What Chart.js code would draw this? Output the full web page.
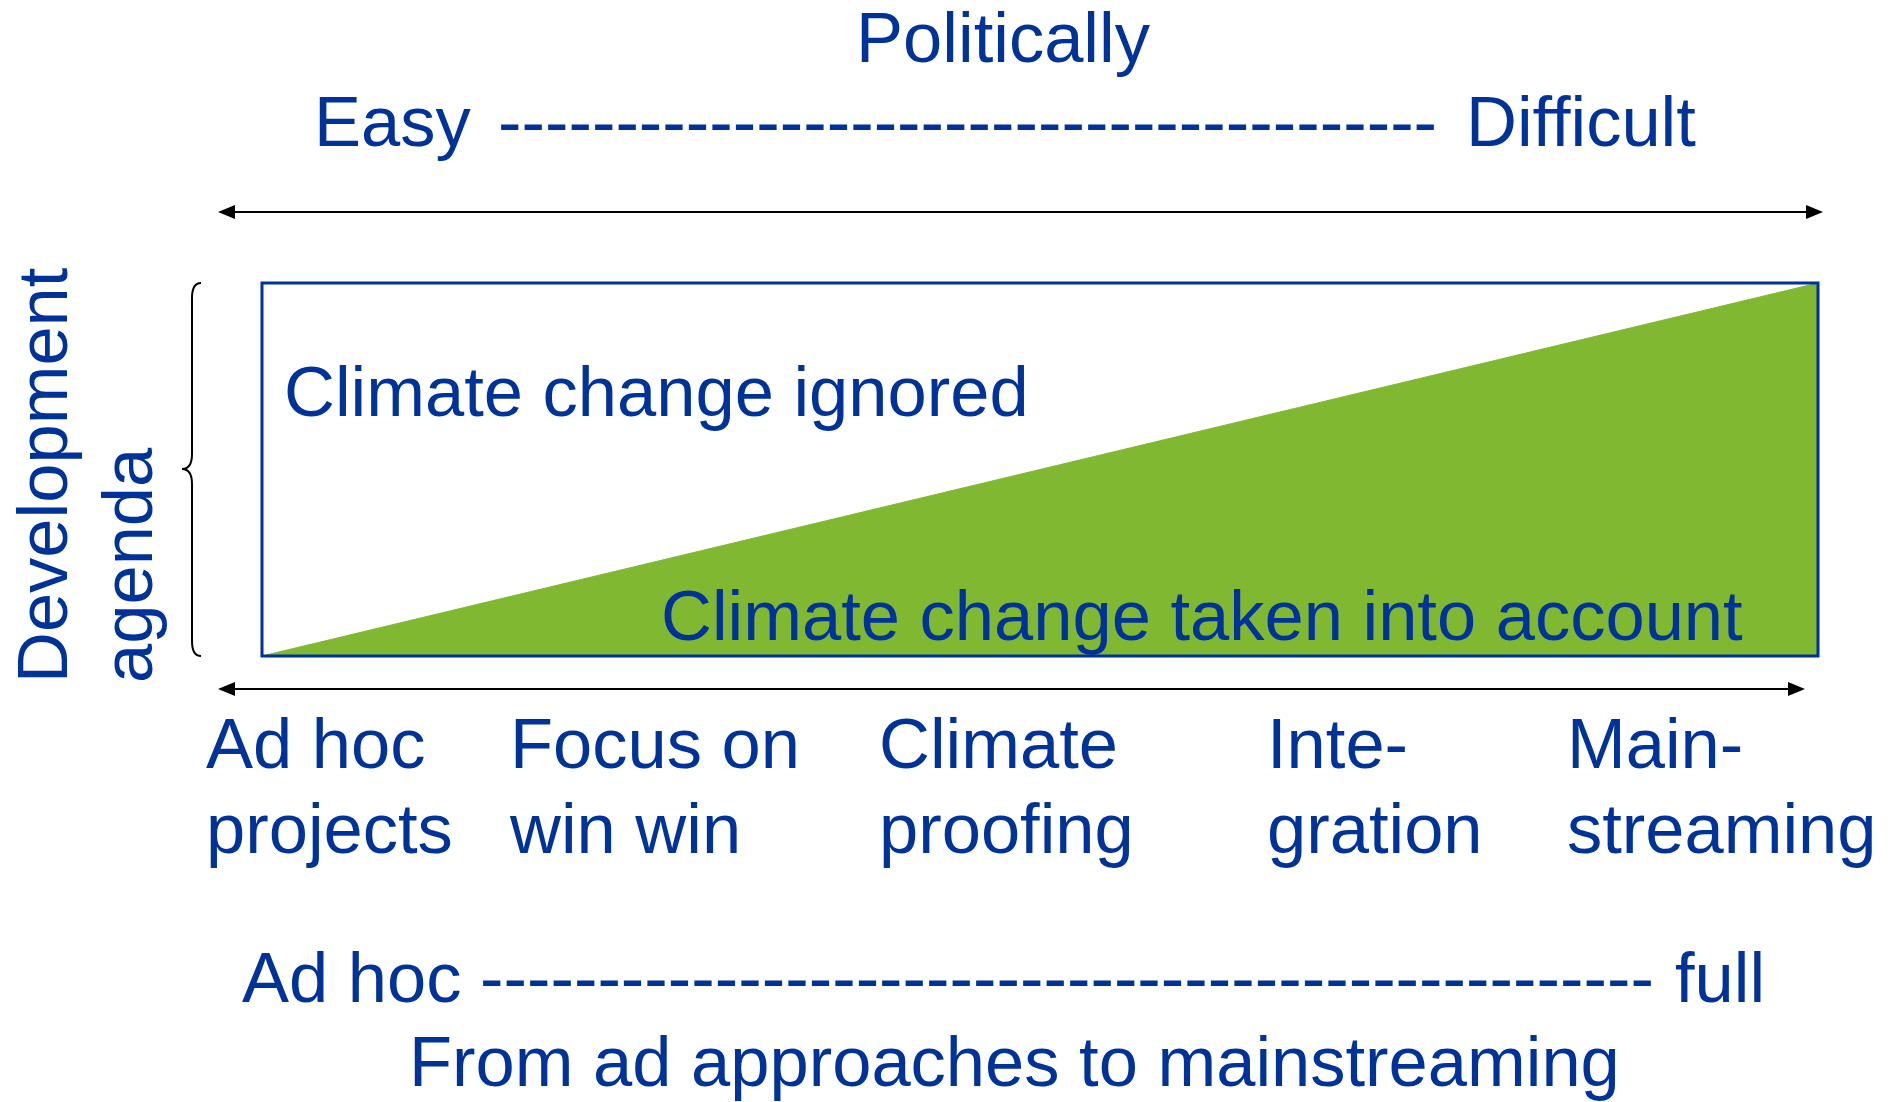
<!DOCTYPE html>
<html lang="en">
<head>
    <meta charset="UTF-8">
    <title>From ad hoc approaches to mainstreaming</title>
    <script src="https://cdn.jsdelivr.net/npm/chart.js"></script>
    <style>
        body {
            margin: 0;
            background: #fff;
        }
        #chartContainer {
            width: 1896px;
            height: 1102px;
        }
    </style>
</head>
<body>

<div id="chartContainer">
    <canvas id="mainChart"></canvas>
</div>

<script>
    // share of climate change taken into account, from ad hoc (0) to full (1)
    const stages = [0, 1];
    const shareTaken = [0, 1];

    const approachLabels = [
        ['Ad hoc', 'projects'],
        ['Focus on', 'win win'],
        ['Climate', 'proofing'],
        ['Inte-', 'gration'],
        ['Main-', 'streaming']
    ];

    const titleText = 'Politically';
    const politicalEnds = ['Easy', 'Difficult'];
    const approachEnds = ['Ad hoc', 'full'];
    const footerText = 'From ad approaches to mainstreaming';
    const yTitle = ['Development', 'agenda'];
    const areaLabels = ['Climate change ignored', 'Climate change taken into account'];

    const BLUE = '#003399';
    const GREEN = '#80b832';
    const FONT = '70.5px "Liberation Sans", Arial, sans-serif';

    // left edges of the approach labels
    const labelX = [206, 510, 879, 1267, 1567];

    function arrow(ctx, x1, x2, y) {
        ctx.save();
        ctx.strokeStyle = '#000';
        ctx.fillStyle = '#000';
        ctx.lineWidth = 2;
        ctx.beginPath();
        ctx.moveTo(x1 + 10, y);
        ctx.lineTo(x2 - 10, y);
        ctx.stroke();
        ctx.beginPath();
        ctx.moveTo(x1, y);
        ctx.lineTo(x1 + 17, y - 7);
        ctx.lineTo(x1 + 17, y + 7);
        ctx.closePath();
        ctx.fill();
        ctx.beginPath();
        ctx.moveTo(x2, y);
        ctx.lineTo(x2 - 17, y - 7);
        ctx.lineTo(x2 - 17, y + 7);
        ctx.closePath();
        ctx.fill();
        ctx.restore();
    }

    // row of hyphens between two words
    function dashes(ctx, x1, x2, y) {
        const w = ctx.measureText('-').width;
        const n = Math.round((x2 - x1) / w);
        ctx.fillText('-'.repeat(n), x1, y);
    }

    const annotations = {
        id: 'annotations',
        afterDatasetsDraw(chart) {
            const ctx = chart.ctx;
            const area = chart.chartArea;

            // box frame
            ctx.save();
            ctx.strokeStyle = BLUE;
            ctx.lineWidth = 3;
            ctx.strokeRect(area.left, area.top, area.right - area.left, area.bottom - area.top);
            ctx.restore();
        },
        afterDraw(chart) {
            const ctx = chart.ctx;
            const area = chart.chartArea;
            ctx.save();
            ctx.fillStyle = BLUE;
            ctx.font = FONT;
            ctx.textBaseline = 'alphabetic';

            // top
            ctx.textAlign = 'center';
            ctx.fillText(titleText, 1003, 62);
            ctx.textAlign = 'left';
            ctx.fillText(politicalEnds[0], 314, 146);
            dashes(ctx, 498, 1446, 146);
            ctx.fillText(politicalEnds[1], 1466, 146);

            // inside the box
            ctx.fillText(areaLabels[0], 284, 416);
            ctx.fillText(areaLabels[1], 661, 640);

            // approaches
            approachLabels.forEach((lines, i) => {
                ctx.fillText(lines[0], labelX[i], 768);
                ctx.fillText(lines[1], labelX[i], 853);
            });

            // bottom
            ctx.fillText(approachEnds[0], 242, 1002);
            dashes(ctx, 480, 1662, 1002);
            ctx.fillText(approachEnds[1], 1675, 1002);
            ctx.fillText(footerText, 409, 1086);

            // rotated y title
            ctx.save();
            ctx.translate(0, 683);
            ctx.rotate(-Math.PI / 2);
            ctx.fillText(yTitle[0], 0, 67);
            ctx.fillText(yTitle[1], 0, 152);
            ctx.restore();

            // arrows
            arrow(ctx, 218, 1823, 212);
            arrow(ctx, 218, 1805, 689);

            // brace
            ctx.strokeStyle = '#000';
            ctx.lineWidth = 2;
            const top = area.top, bot = area.bottom, mid = 469;
            ctx.beginPath();
            ctx.moveTo(201, top);
            ctx.quadraticCurveTo(192, top, 192, top + 15);
            ctx.lineTo(192, mid - 15);
            ctx.quadraticCurveTo(192, mid, 182, mid);
            ctx.quadraticCurveTo(192, mid, 192, mid + 15);
            ctx.lineTo(192, bot - 15);
            ctx.quadraticCurveTo(192, bot, 201, bot);
            ctx.stroke();

            ctx.restore();
        }
    };

    const ctx = document.getElementById('mainChart').getContext('2d');

    new Chart(ctx, {
        type: 'line',
        data: {
            datasets: [{
                label: areaLabels[1],
                data: stages.map((x, i) => ({ x: x, y: shareTaken[i] })),
                backgroundColor: GREEN,
                borderColor: GREEN,
                borderWidth: 1,
                pointRadius: 0,
                fill: 'origin',
                tension: 0
            }]
        },
        options: {
            responsive: true,
            maintainAspectRatio: false,
            animation: false,
            layout: {
                padding: { left: 262, right: 78, top: 283, bottom: 446 }
            },
            scales: {
                x: { type: 'linear', min: 0, max: 1, display: false },
                y: { min: 0, max: 1, display: false }
            },
            plugins: {
                legend: { display: false },
                tooltip: { enabled: false }
            }
        },
        plugins: [annotations]
    });
</script>

</body>
</html>
